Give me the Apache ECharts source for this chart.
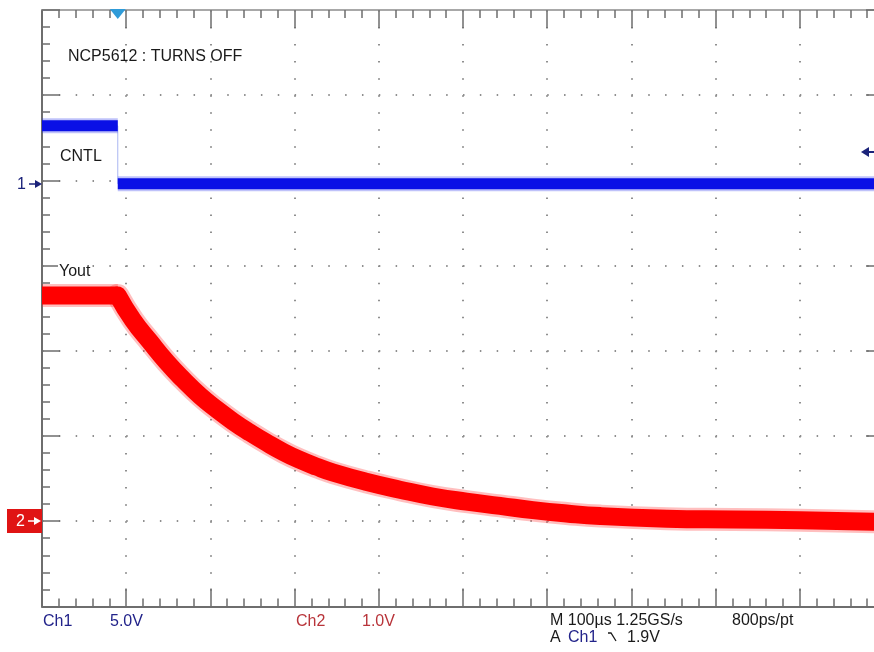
<!DOCTYPE html>
<html>
<head>
<meta charset="utf-8">
<script src="https://cdn.jsdelivr.net/npm/echarts@6/dist/echarts.min.js"></script>
<style>
  html, body { margin: 0; padding: 0; background: #fff; }
  #chart { width: 874px; height: 652px; }
</style>
</head>
<body>
<div id="chart"></div>
<script>
// time in µs (100 µs/div), volts per channel
const ch1Time = [0, 90, 90, 1000];
const ch1Volt = [3.2, 3.2, -0.2, -0.2];

const ch2Time = [0, 90, 108, 128, 148, 168, 188, 208, 227, 247, 267, 287, 306, 326, 346, 386, 425, 464, 504, 544, 583, 623, 663, 742, 821, 900, 1000];
const ch2Volt = [2.65, 2.65, 2.36, 2.11, 1.87, 1.66, 1.47, 1.31, 1.17, 1.04, 0.92, 0.81, 0.72, 0.64, 0.57, 0.46, 0.37, 0.29, 0.23, 0.18, 0.13, 0.09, 0.06, 0.03, 0.02, 0.01, -0.01];

const triggerTime = 90;
const triggerLevel = 1.9;

const chart = echarts.init(document.getElementById("chart"));

const pairs = (xs, ys) => xs.map((x, i) => [x, ys[i]]);
const ch1All = pairs(ch1Time, ch1Volt);
const ch1High = ch1All.slice(0, 2);
const ch1Low = ch1All.slice(2);
const ch2All = pairs(ch2Time, ch2Volt);
const ch2Flat = ch2All.slice(0, 2);
const ch2Decay = ch2All.slice(1);

const FONT = '"Liberation Sans", Arial, sans-serif';
const axisGray = "#6e6e6e";

function frameAxis(extra) {
  return Object.assign(
    {
      axisLine: { show: true, onZero: false, lineStyle: { color: axisGray, width: 2 } },
      axisTick: { show: true, inside: true, length: 18, lineStyle: { color: axisGray, width: 1.5 } },
      minorTick: { show: true, splitNumber: 5, length: 8, lineStyle: { color: axisGray, width: 1.5 } },
      axisLabel: { show: false },
      splitLine: { show: false },
    },
    extra
  );
}

function txt(text, x, y, color, extra) {
  return {
    type: "text",
    z: 100,
    style: Object.assign(
      { text: text, x: x, y: y, fill: color || "#1a1a1a", font: "16px " + FONT, textVerticalAlign: "middle" },
      extra || {}
    ),
  };
}

function trace(name, data, yIdx, color, width, opacity, cap, smooth) {
  return {
    name: name, type: "line", xAxisIndex: 0, yAxisIndex: yIdx, data: data,
    smooth: smooth || false, symbol: "none",
    lineStyle: { color: color, width: width, opacity: opacity, cap: cap, join: "round" },
    z: opacity < 1 ? 4 : 5,
  };
}

const option = {
  animation: false,
  backgroundColor: "#fff",
  // the screen is 10 divisions wide, the right edge falls just outside the picture
  grid: { left: 42, top: 10, width: 842, height: 596.4, outerBoundsMode: "none", containLabel: false },
  xAxis: [
    frameAxis({
      type: "value", position: "bottom", min: 0, max: 1000, interval: 100,
      splitLine: { show: true, lineStyle: { color: "#8f8f8f", width: 2, type: [1.5, 15.54] } },
    }),
    frameAxis({
      type: "value", position: "top", min: 0, max: 1000, interval: 100,
      axisLine: { show: true, onZero: false, lineStyle: { color: "#a8a8a8", width: 2 } },
    }),
  ],
  yAxis: [
    // Ch1 5.0V/div
    frameAxis({
      type: "value", position: "left", min: -25, max: 10, interval: 5,
      splitLine: { show: true, lineStyle: { color: "#8f8f8f", width: 2, type: [1.5, 15.34] } },
    }),
    // Ch2 1.0V/div
    frameAxis({ type: "value", position: "right", min: -1, max: 6, interval: 1 }),
  ],
  series: [
    {
      name: "CNTL edge", type: "line", xAxisIndex: 0, yAxisIndex: 0, data: ch1All,
      symbol: "none", lineStyle: { color: "#a9b6f2", width: 1 }, z: 3,
    },
    trace("CNTL fringe high", ch1High, 0, "#2a34f0", 15, 0.3, "butt"),
    trace("CNTL fringe low", ch1Low, 0, "#2a34f0", 15, 0.3, "butt"),
    trace("CNTL high", ch1High, 0, "#0a10e6", 11, 1, "butt"),
    Object.assign(trace("CNTL low", ch1Low, 0, "#0a10e6", 11, 1, "butt"), {
      markPoint: {
        symbol: "triangle", symbolRotate: 180, symbolSize: [16, 10], symbolOffset: [0, 4],
        itemStyle: { color: "#2f9bd8" }, label: { show: false },
        data: [{ coord: [triggerTime, 10] }],
      },
    }),
    trace("Vout fringe flat", ch2Flat, 1, "#ff2a2a", 23, 0.3, "butt"),
    trace("Vout fringe decay", ch2Decay, 1, "#ff2a2a", 23, 0.3, "round", 0.5),
    trace("Vout flat", ch2Flat, 1, "#ff0000", 18, 1, "butt"),
    trace("Vout decay", ch2Decay, 1, "#ff0000", 18, 1, "round", 0.5),
  ],
  graphic: [
    txt("NCP5612 : TURNS OFF", 68, 57),
    txt("CNTL", 60, 157),
    txt("Yout", 58, 272, "#1a1a1a", { backgroundColor: "#fff", padding: [0, 1] }),
    // ch1 ground marker
    txt("1", 17, 185, "#1b237a"),
    { type: "line", z: 100, shape: { x1: 29, y1: 184, x2: 38, y2: 184 }, style: { stroke: "#1b237a", lineWidth: 1.5 } },
    { type: "polygon", z: 100, shape: { points: [[35, 180], [42, 184], [35, 188]] }, style: { fill: "#1b237a" } },
    // ch2 ground marker
    { type: "rect", z: 100, shape: { x: 7, y: 509, width: 35, height: 24 }, style: { fill: "#e01414" } },
    txt("2", 16, 522, "#fff"),
    { type: "line", z: 101, shape: { x1: 28, y1: 521, x2: 37, y2: 521 }, style: { stroke: "#fff", lineWidth: 1.5 } },
    { type: "polygon", z: 101, shape: { points: [[34, 517], [41, 521], [34, 525]] }, style: { fill: "#fff" } },
    // trigger level arrow
    { type: "polygon", z: 100, shape: { points: [[861, 152], [869, 147], [869, 157]] }, style: { fill: "#1b237a" } },
    { type: "line", z: 100, shape: { x1: 866, y1: 152, x2: 874, y2: 152 }, style: { stroke: "#1b237a", lineWidth: 2 } },
    // bottom readout
    txt("Ch1", 43, 622, "#22238a"),
    txt("5.0V", 110, 622, "#22238a"),
    txt("Ch2", 296, 622, "#b8343a"),
    txt("1.0V", 362, 622, "#b8343a"),
    txt("M 100µs 1.25GS/s", 550, 621),
    txt("800ps/pt", 732, 621),
    txt("A", 550, 638),
    txt("Ch1", 568, 638, "#22238a"),
    { type: "polyline", z: 100, shape: { points: [[608, 633], [611, 633], [616, 641]] }, style: { stroke: "#1a1a1a", lineWidth: 1.3, fill: null } },
    txt(triggerLevel.toFixed(1) + "V", 627, 638),
  ],
};

chart.setOption(option);
</script>
</body>
</html>
